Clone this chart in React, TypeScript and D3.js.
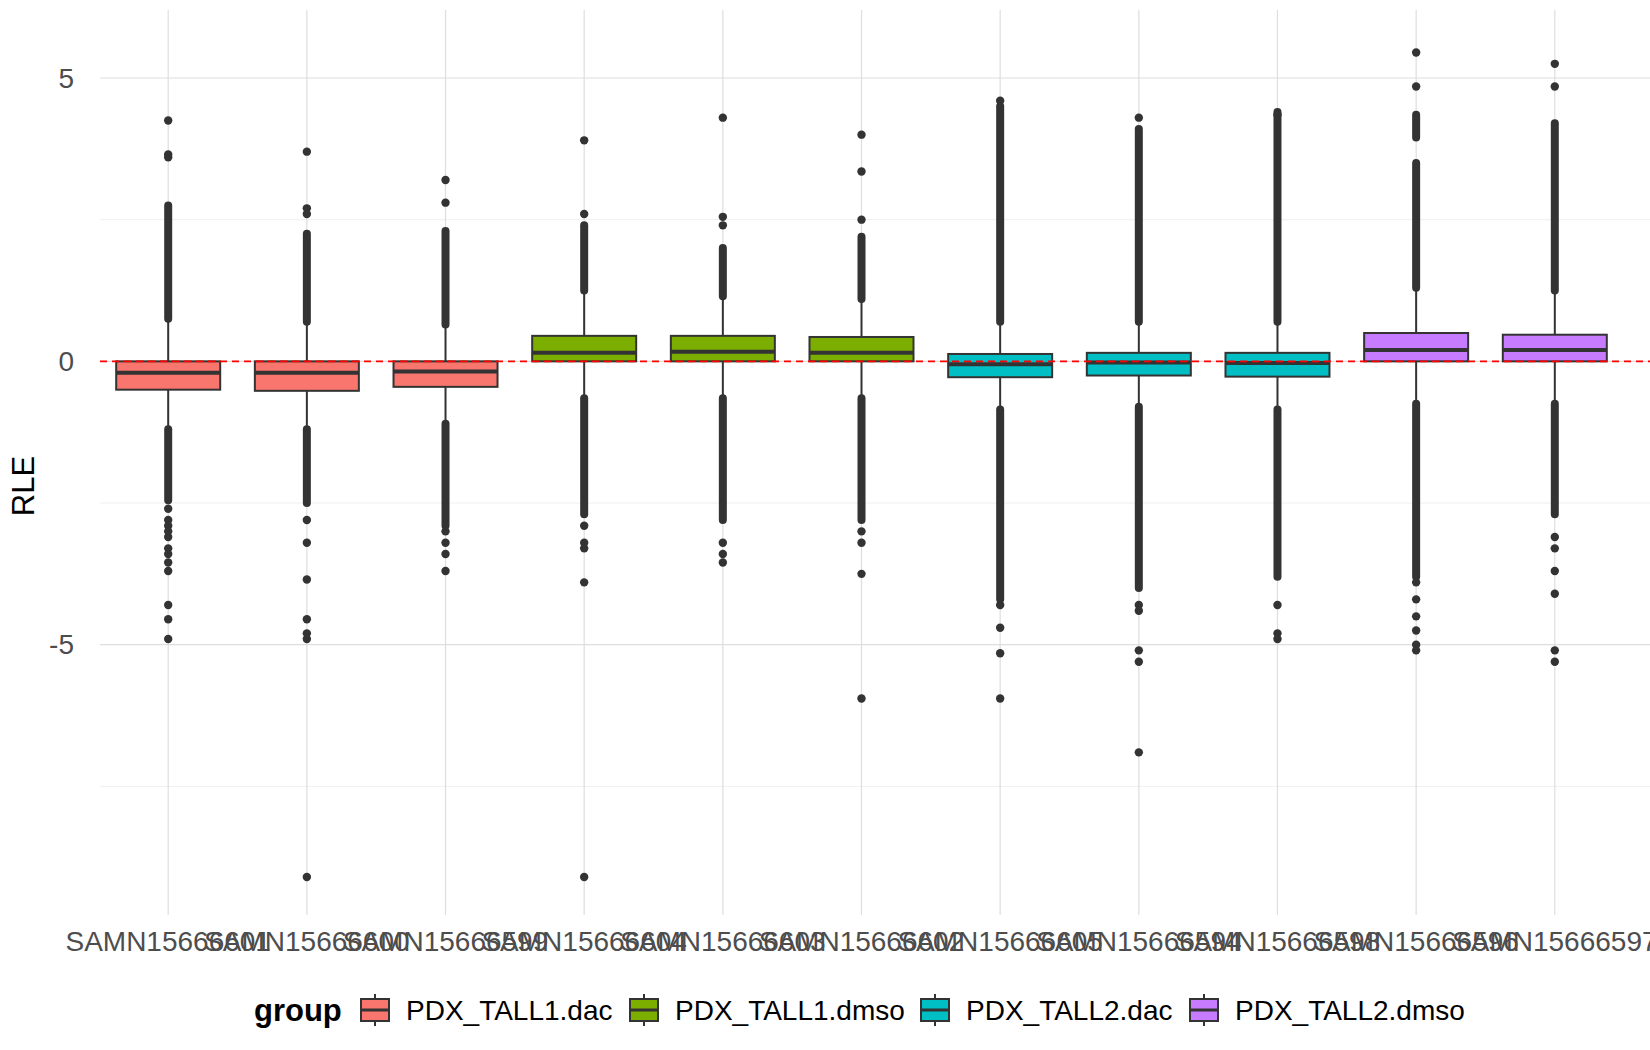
import * as d3 from "d3";
import React, { useEffect, useRef } from "react";

const W = 1650;
const H = 1050;

const samples = [
  "SAMN15666601", "SAMN15666600", "SAMN15666599", "SAMN15666604", "SAMN15666603",
  "SAMN15666602", "SAMN15666605", "SAMN15666594", "SAMN15666598", "SAMN15666596", "SAMN15666597",
];
const groupOf = [0, 0, 0, 1, 1, 1, 2, 2, 2, 3, 3];
const groups = ["PDX_TALL1.dac", "PDX_TALL1.dmso", "PDX_TALL2.dac", "PDX_TALL2.dmso"];
const colors = ["#F8766D", "#7CAE00", "#00BFC4", "#C77CFF"];

// [whiskerLow, q1, median, q3, whiskerHigh]
const stats: number[][] = [
  [-1.2, -0.5, -0.2, 0, 0.75],
  [-1.2, -0.52, -0.2, 0, 0.7],
  [-1.1, -0.45, -0.18, 0, 0.65],
  [-0.65, 0, 0.15, 0.45, 1.25],
  [-0.65, 0, 0.17, 0.45, 1.15],
  [-0.65, 0, 0.15, 0.43, 1.1],
  [-0.85, -0.28, -0.05, 0.13, 0.7],
  [-0.8, -0.25, -0.02, 0.15, 0.7],
  [-0.85, -0.27, -0.03, 0.15, 0.7],
  [-0.75, 0, 0.2, 0.5, 1.3],
  [-0.75, 0, 0.2, 0.47, 1.25],
];

// dense outlier runs: [from, to]
const denseRuns: number[][][] = [
  [[0.75, 2.75], [-1.2, -2.45]],
  [[0.7, 2.25], [-1.2, -2.5]],
  [[0.65, 2.3], [-1.1, -2.9]],
  [[1.25, 2.4], [-0.65, -2.7]],
  [[1.15, 2.0], [-0.65, -2.8]],
  [[1.1, 2.2], [-0.65, -2.8]],
  [[0.7, 4.5], [-0.85, -4.2]],
  [[0.7, 4.1], [-0.8, -4.0]],
  [[0.7, 4.4], [-0.85, -3.8]],
  [[1.3, 3.5], [-0.75, -3.8], [3.95, 4.35]],
  [[1.25, 4.2], [-0.75, -2.7]],
];

// sparse outliers
const outliers: number[][] = [
  [3.6, 3.65, 4.25, -2.6, -2.8, -2.9, -3.0, -3.1, -3.3, -3.4, -3.55, -3.7, -4.3, -4.55, -4.9],
  [2.6, 2.7, 3.7, -2.8, -3.2, -3.85, -4.55, -4.8, -4.9, -9.1],
  [2.8, 3.2, -3.0, -3.2, -3.4, -3.7],
  [2.6, 3.9, -2.9, -3.2, -3.3, -3.9, -9.1],
  [2.4, 2.55, 4.3, -3.2, -3.4, -3.55],
  [2.5, 3.35, 4.0, -3.0, -3.2, -3.75, -5.95],
  [4.6, -4.3, -4.7, -5.15, -5.95],
  [4.3, -4.3, -4.4, -5.1, -5.3, -6.9],
  [4.35, -4.3, -4.8, -4.9],
  [4.85, 5.45, -3.9, -4.2, -4.5, -4.75, -5.0, -5.1],
  [4.85, 5.25, -3.1, -3.3, -3.7, -4.1, -5.1, -5.3],
];

const yTicks = [-5, 0, 5];
const yMinor = [-7.5, -2.5, 2.5];

export default function App() {
  const ref = useRef<SVGSVGElement | null>(null);

  useEffect(() => {
    if (!ref.current) return;
    const svg = d3.select(ref.current);
    svg.selectAll("*").remove();
    const font = "Liberation Sans, Arial, sans-serif";

    const left = 85, right = 1638, top = 10, bottom = 915;
    const x = d3.scaleBand().domain(samples).range([left, right]).paddingInner(0).paddingOuter(0.1);
    const y = d3.scaleLinear().domain([-9.77, 6.2]).range([bottom, top]);
    const cx = (s: string) => (x(s) as number) + x.bandwidth() / 2;
    const bw = x.bandwidth() * 0.75;

    // grid
    yMinor.forEach((v) =>
      svg.append("line").attr("x1", 100).attr("x2", W).attr("y1", y(v)).attr("y2", y(v))
        .attr("stroke", "#ebebeb").attr("stroke-width", 0.8));
    yTicks.forEach((v) =>
      svg.append("line").attr("x1", 100).attr("x2", W).attr("y1", y(v)).attr("y2", y(v))
        .attr("stroke", "#dedede").attr("stroke-width", 1.2));
    samples.forEach((s) =>
      svg.append("line").attr("x1", cx(s)).attr("x2", cx(s)).attr("y1", top).attr("y2", bottom)
        .attr("stroke", "#dedede").attr("stroke-width", 1.2));

    const ink = "#333333";
    samples.forEach((s, i) => {
      const [lo, q1, med, q3, hi] = stats[i];
      const c = cx(s);
      const g = svg.append("g");
      g.append("line").attr("x1", c).attr("x2", c).attr("y1", y(hi)).attr("y2", y(q3)).attr("stroke", ink).attr("stroke-width", 2);
      g.append("line").attr("x1", c).attr("x2", c).attr("y1", y(q1)).attr("y2", y(lo)).attr("stroke", ink).attr("stroke-width", 2);
      g.append("rect").attr("x", c - bw / 2).attr("width", bw).attr("y", y(q3)).attr("height", y(q1) - y(q3))
        .attr("fill", colors[groupOf[i]]).attr("stroke", ink).attr("stroke-width", 2);
      g.append("line").attr("x1", c - bw / 2).attr("x2", c + bw / 2).attr("y1", y(med)).attr("y2", y(med))
        .attr("stroke", ink).attr("stroke-width", 4);
      denseRuns[i].forEach(([a, b]) =>
        g.append("line").attr("x1", c).attr("x2", c).attr("y1", y(a)).attr("y2", y(b))
          .attr("stroke", ink).attr("stroke-width", 8).attr("stroke-linecap", "round"));
      outliers[i].forEach((v) =>
        g.append("circle").attr("cx", c).attr("cy", y(v)).attr("r", 4.2).attr("fill", ink));
    });

    // zero reference
    svg.append("line").attr("x1", 100).attr("x2", W).attr("y1", y(0)).attr("y2", y(0))
      .attr("stroke", "red").attr("stroke-width", 1.8).attr("stroke-dasharray", "7,5");

    // y axis
    yTicks.forEach((v) =>
      svg.append("text").attr("x", 74).attr("y", y(v)).attr("dy", "0.35em").attr("text-anchor", "end")
        .attr("font-family", font).attr("font-size", 28).attr("fill", "#4d4d4d").text(String(v)));
    svg.append("text").attr("transform", `translate(34,${y(-2.2)}) rotate(-90)`).attr("text-anchor", "middle")
      .attr("font-family", font).attr("font-size", 31).attr("fill", "#000").text("RLE");

    // x labels
    samples.forEach((s) =>
      svg.append("text").attr("x", cx(s)).attr("y", 951).attr("text-anchor", "middle")
        .attr("font-family", font).attr("font-size", 28).attr("fill", "#4d4d4d").text(s));

    // legend
    const ly = 1010;
    svg.append("text").attr("x", 254).attr("y", ly).attr("dy", "0.35em").attr("font-family", font)
      .attr("font-size", 31).attr("font-weight", "bold").attr("fill", "#000").text("group");
    const keyX = [361, 630, 921, 1190];
    groups.forEach((gname, i) => {
      const kx = keyX[i];
      const kw = 28;
      const g = svg.append("g");
      g.append("line").attr("x1", kx + kw / 2).attr("x2", kx + kw / 2).attr("y1", ly - 16).attr("y2", ly + 16).attr("stroke", ink).attr("stroke-width", 2);
      g.append("rect").attr("x", kx).attr("y", ly - 11).attr("width", kw).attr("height", 22)
        .attr("fill", colors[i]).attr("stroke", ink).attr("stroke-width", 2);
      g.append("line").attr("x1", kx).attr("x2", kx + kw).attr("y1", ly).attr("y2", ly).attr("stroke", ink).attr("stroke-width", 3);
      g.append("text").attr("x", kx + 45).attr("y", ly).attr("dy", "0.35em").attr("font-family", font)
        .attr("font-size", 28).attr("fill", "#000").text(gname);
    });
  }, []);

  return <svg ref={ref} width={W} height={H} style={{ position: "absolute", left: 0, top: 0, background: "#fff" }} />;
}
